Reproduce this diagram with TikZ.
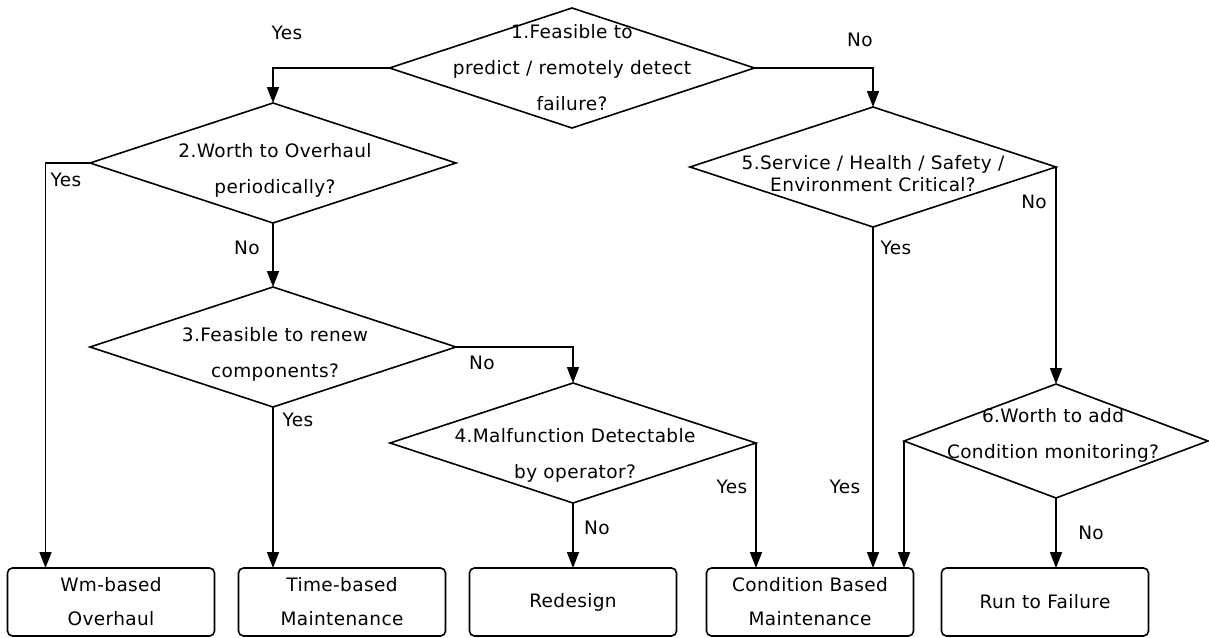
\documentclass[tikz,border=0pt]{standalone}
\usepackage{fontspec}
\setmainfont{DejaVu Sans}[LetterSpace=2]
\usetikzlibrary{shapes.geometric,arrows.meta}
\begin{document}
\begin{tikzpicture}[x=1pt,y=-1pt,
  line width=1.6pt,
  every node/.style={inner sep=0pt,outer sep=0pt},
  txt/.style={font=\fontsize{18.5}{36}\selectfont,align=center},
  lbl/.style={font=\fontsize{18.5}{20}\selectfont},
  dec/.style={draw,diamond,shape aspect=3,inner sep=0pt,outer sep=0pt},
  endbox/.style={draw,rounded corners=5pt,minimum width=207pt,minimum height=68pt,
    txt,font=\fontsize{18.5}{34}\selectfont},
  flow/.style={-{Triangle[length=16pt,width=12pt]}}
]
\useasboundingbox (0,0) rectangle (1209,637);

% decision diamonds
\node[dec,minimum width=365pt,minimum height=120pt] (d1) at (572,68) {};
\node[dec,minimum width=366pt,minimum height=120pt] (d2) at (273,163) {};
\node[dec,minimum width=366pt,minimum height=120pt] (d3) at (273,347) {};
\node[dec,minimum width=366pt,minimum height=120pt] (d4) at (573,443) {};
\node[dec,minimum width=366pt,minimum height=120pt] (d5) at (873,167) {};
\node[dec,minimum width=304pt,minimum height=114pt] (d6) at (1056,441) {};

% texts of the diamonds
\node[txt] (t1) at (572,68) {1.Feasible to\\predict / remotely detect\\failure?};
\node[txt] (t2) at (275,170) {2.Worth to Overhaul\\periodically?};
\node[txt] (t3) at (275,354) {3.Feasible to renew\\components?};
\node[txt] (t4) at (575,455) {4.Malfunction Detectable\\by operator?};
\node[txt,font=\fontsize{18.5}{22}\selectfont] (t5) at (873,174) {5.Service / Health / Safety /\\Environment Critical?};
\node[txt] (t6) at (1053,435) {6.Worth to add\\Condition monitoring?};

% end results
\node[endbox] (wm) at (111,602) {Wm-based\\Overhaul};
\node[endbox] (tb) at (342,602) {Time-based\\Maintenance};
\node[endbox] (rd) at (573,602) {Redesign};
\node[endbox] (cbm) at (810,602) {Condition Based\\Maintenance};
\node[endbox] (rtf) at (1045,602) {Run to Failure};

% connectors
\draw[flow] (d1.west) -| (d2.north);
\draw[flow] (d1.east) -| (d5.north);
\draw[flow] (d2.west) -| ([xshift=38pt]wm.north west);
\draw[flow] (d2.south) -- (d3.north);
\draw[flow] (d3.south) -- (d3.south |- tb.north);
\draw[flow] (d3.east) -| (d4.north);
\draw[flow] (d4.south) -- (d4.south |- rd.north);
\draw[flow] (d4.east) -- (d4.east |- cbm.north);
\draw[flow] (d5.south) -- (d5.south |- cbm.north);
\draw[flow] (d5.east) -- (d6.north);
\draw[flow] (d6.west) -- (d6.west |- cbm.north);
\draw[flow] (d6.south) -- (d6.south |- rtf.north);

% branch labels
\node[lbl] (y1) at (287,33) {Yes};
\node[lbl] (n1) at (860,40) {No};
\node[lbl] (y2) at (66,180) {Yes};
\node[lbl] (n2) at (247,248) {No};
\node[lbl] (n3) at (482,363) {No};
\node[lbl] (y3) at (298,420) {Yes};
\node[lbl] (n4) at (597,528) {No};
\node[lbl] (y4) at (732,487) {Yes};
\node[lbl] (y5) at (896,248) {Yes};
\node[lbl] (y5b) at (845,487) {Yes};
\node[lbl] (n5) at (1034,202) {No};
\node[lbl] (n6) at (1091,533) {No};
\end{tikzpicture}
\end{document}
